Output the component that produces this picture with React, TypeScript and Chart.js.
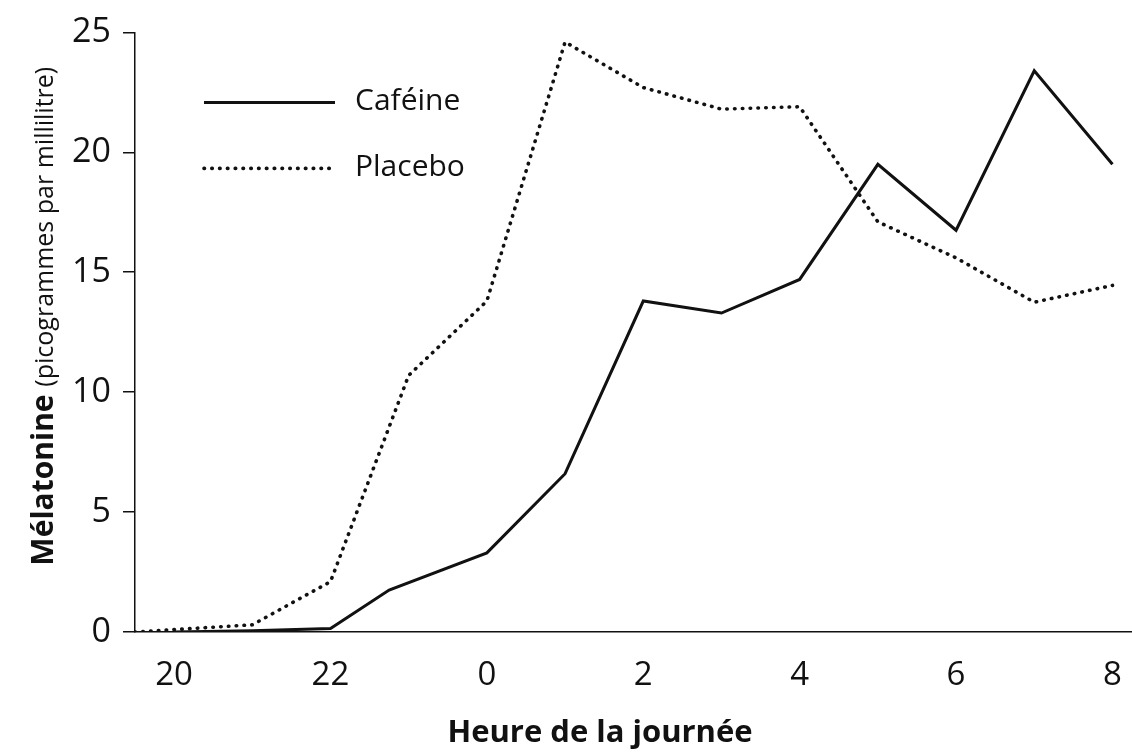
import { useEffect, useRef } from 'react';
import { Chart, registerables } from 'chart.js';

Chart.register(...registerables);

const FONT = '"Open Sans", "Noto Sans", sans-serif';
const INK = '#111111';

// Hours are on a continuous scale: 24 = midnight (0), 32 = 8 h
const xTickValues = [20, 22, 24, 26, 28, 30, 32];
const xTickLabels = ['20', '22', '0', '2', '4', '6', '8'];

const cafeineHours = [20, 21, 22, 22.75, 24, 25, 26, 27, 28, 29, 30, 31, 32];
const cafeineValues = [0, 0.05, 0.15, 1.75, 3.3, 6.6, 13.8, 13.3, 14.7, 19.5, 16.75, 23.4, 19.5];

const placeboHours = [19.5, 21, 22, 23, 24, 25, 26, 27, 28, 29, 30, 31, 32];
const placeboValues = [0, 0.3, 2.1, 10.7, 13.8, 24.6, 22.7, 21.8, 21.9, 17.1, 15.6, 13.75, 14.45];

const seriesLabels = ['Caféine', 'Placebo'];
const xTitle = 'Heure de la journée';
const yTitleBold = 'Mélatonine';
const yTitleRest = '(picogrammes par millilitre)';

const legendPlugin = {
  id: 'customLegend',
  afterDraw(chart: any) {
    const { ctx, chartArea } = chart;
    const rows = [
      { y: chartArea.top + 70, ds: chart.data.datasets[0] },
      { y: chartArea.top + 136, ds: chart.data.datasets[1] },
    ];
    ctx.save();
    rows.forEach(({ y, ds }) => {
      const x0 = chartArea.left + 69;
      const x1 = chartArea.left + 200;
      ctx.beginPath();
      ctx.strokeStyle = ds.borderColor;
      ctx.lineWidth = ds.borderWidth;
      ctx.lineCap = ds.borderCapStyle || 'butt';
      ctx.setLineDash(ds.borderDash || []);
      ctx.moveTo(x0, y);
      ctx.lineTo(x1, y);
      ctx.stroke();
      ctx.setLineDash([]);
      ctx.fillStyle = INK;
      ctx.font = `30px ${FONT}`;
      ctx.textAlign = 'left';
      ctx.textBaseline = 'middle';
      ctx.fillText(ds.label, chartArea.left + 220, y - 1);
    });
    ctx.restore();
  },
};

const titlesPlugin = {
  id: 'axisTitles',
  afterDraw(chart: any) {
    const { ctx, chartArea } = chart;
    ctx.save();
    ctx.fillStyle = INK;

    // x-axis title
    ctx.font = `bold 31px ${FONT}`;
    ctx.textAlign = 'center';
    ctx.textBaseline = 'alphabetic';
    ctx.fillText(xTitle, chartArea.left + 465, chartArea.bottom + 110);

    // y-axis title (mixed weights)
    const cy = (chartArea.top + chartArea.bottom) / 2 - 16;
    ctx.translate(53, cy);
    ctx.rotate(-Math.PI / 2);
    const boldFont = `bold 30px ${FONT}`;
    const restFont = `25px ${FONT}`;
    ctx.font = boldFont;
    const wb = ctx.measureText(yTitleBold + ' ').width;
    ctx.font = restFont;
    const wr = ctx.measureText(yTitleRest).width;
    const start = -(wb + wr) / 2;
    ctx.textAlign = 'left';
    ctx.font = boldFont;
    ctx.fillText(yTitleBold, start, 0);
    ctx.font = restFont;
    ctx.fillText(yTitleRest, start + wb, 0);
    ctx.restore();
  },
};

export default function App() {
  const ref = useRef<HTMLCanvasElement | null>(null);

  useEffect(() => {
    document.body.style.margin = '0';
    const canvas = ref.current;
    if (!canvas) return;
    const chart = new Chart(canvas, {
      type: 'line',
      data: {
        datasets: [
          {
            label: seriesLabels[0],
            data: cafeineHours.map((h, i) => ({ x: h, y: cafeineValues[i] })),
            borderColor: INK,
            borderWidth: 3,
            pointRadius: 0,
            tension: 0,
            borderJoinStyle: 'miter',
          },
          {
            label: seriesLabels[1],
            data: placeboHours.map((h, i) => ({ x: h, y: placeboValues[i] })),
            borderColor: INK,
            borderWidth: 3.6,
            borderDash: [0.5, 7.3],
            borderCapStyle: 'round',
            pointRadius: 0,
            tension: 0,
          },
        ],
      },
      options: {
        responsive: false,
        animation: false,
        devicePixelRatio: 1,
        layout: { padding: { top: 32, right: 0, left: 0, bottom: 0 } },
        plugins: {
          legend: { display: false },
          tooltip: { enabled: false },
        },
        scales: {
          x: {
            type: 'linear',
            min: 19.5,
            max: 32.25,
            afterBuildTicks: (scale: any) => {
              scale.ticks = xTickValues.map((v) => ({ value: v }));
            },
            afterFit: (scale: any) => {
              scale.height = 123;
              scale.paddingLeft = 0;
              scale.paddingRight = 0;
            },
            ticks: {
              autoSkip: false,
              maxRotation: 0,
              padding: 24,
              color: INK,
              font: { family: FONT, size: 33 },
              callback: (v: any) => {
                const i = xTickValues.indexOf(Number(v));
                return i >= 0 ? xTickLabels[i] : '';
              },
            },
            grid: { display: false, drawTicks: false },
            border: { display: true, color: INK, width: 1.5 },
            title: { display: false },
          },
          y: {
            min: 0,
            max: 25,
            afterFit: (scale: any) => {
              scale.width = 135;
            },
            ticks: {
              stepSize: 5,
              padding: 12,
              color: INK,
              font: { family: FONT, size: 34 },
            },
            grid: {
              drawOnChartArea: false,
              drawTicks: true,
              tickLength: 12,
              color: INK,
              lineWidth: 1.5,
            },
            border: { display: true, color: INK, width: 1.5 },
          },
        },
      },
      plugins: [legendPlugin, titlesPlugin],
    } as any);
    return () => chart.destroy();
  }, []);

  return (
    <div style={{ width: 1132, height: 755, background: '#fff' }}>
      <canvas ref={ref} width={1132} height={755} />
    </div>
  );
}
